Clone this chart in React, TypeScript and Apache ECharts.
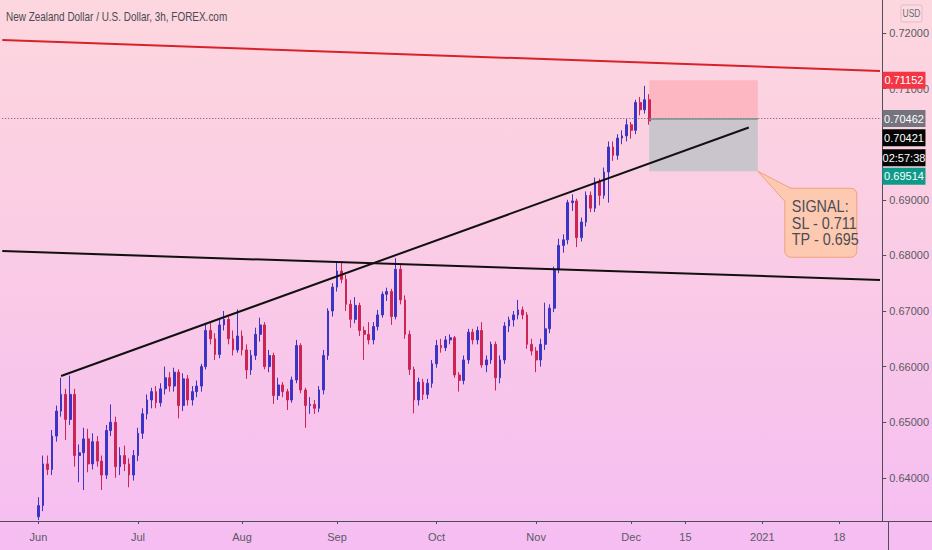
import React, { useEffect, useRef } from 'react';
import * as echarts from 'echarts';

const TITLE = 'New Zealand Dollar / U.S. Dollar, 3h, FOREX.com';
const FONT = "'Liberation Sans', Arial, sans-serif";

// Daily candles: [open, high, low, close]
const juneOHLC = [
  [0.6330, 0.6365, 0.6324, 0.6350], [0.6350, 0.6440, 0.6340, 0.6425], [0.6425, 0.6440, 0.6405, 0.6415],
  [0.6415, 0.6486, 0.6405, 0.6475], [0.6475, 0.6530, 0.6465, 0.6520], [0.6520, 0.6580, 0.6510, 0.6550],
  [0.6550, 0.6560, 0.6468, 0.6505], [0.6505, 0.6584, 0.6495, 0.6550], [0.6550, 0.6560, 0.6420, 0.6440],
  [0.6440, 0.6460, 0.6392, 0.6445], [0.6445, 0.6490, 0.6378, 0.6470], [0.6470, 0.6488, 0.6410, 0.6425],
  [0.6425, 0.6480, 0.6415, 0.6465], [0.6465, 0.6475, 0.6420, 0.6430], [0.6430, 0.6440, 0.6378, 0.6405],
  [0.6405, 0.6495, 0.6398, 0.6485], [0.6485, 0.6532, 0.6475, 0.6500], [0.6500, 0.6510, 0.6400, 0.6420],
  [0.6420, 0.6455, 0.6405, 0.6440], [0.6440, 0.6458, 0.6412, 0.6425], [0.6425, 0.6435, 0.6383, 0.6405],
  [0.6405, 0.6450, 0.6395, 0.6440],
];
const julyOHLC = [
  [0.6440, 0.6490, 0.6430, 0.6480], [0.6480, 0.6525, 0.6470, 0.6515], [0.6515, 0.6550, 0.6505, 0.6540],
  [0.6540, 0.6562, 0.6525, 0.6555], [0.6555, 0.6565, 0.6525, 0.6535], [0.6535, 0.6570, 0.6528, 0.6560],
  [0.6560, 0.6600, 0.6550, 0.6580], [0.6580, 0.6590, 0.6555, 0.6565], [0.6565, 0.6598, 0.6555, 0.6590],
  [0.6590, 0.6595, 0.6507, 0.6530], [0.6530, 0.6588, 0.6520, 0.6578], [0.6578, 0.6585, 0.6530, 0.6540],
  [0.6540, 0.6565, 0.6530, 0.6555], [0.6555, 0.6575, 0.6545, 0.6565], [0.6565, 0.6605, 0.6555, 0.6600],
  [0.6600, 0.6678, 0.6595, 0.6665], [0.6665, 0.6680, 0.6640, 0.6650], [0.6650, 0.6660, 0.6612, 0.6622],
  [0.6622, 0.6685, 0.6615, 0.6675], [0.6675, 0.6700, 0.6665, 0.6685], [0.6685, 0.6690, 0.6640, 0.6650],
  [0.6650, 0.6665, 0.6620, 0.6630], [0.6630, 0.6703, 0.6625, 0.6655],
];
const augustOHLC = [
  [0.6655, 0.6665, 0.6620, 0.6630], [0.6630, 0.6640, 0.6578, 0.6594], [0.6594, 0.6630, 0.6585, 0.6620],
  [0.6620, 0.6670, 0.6612, 0.6658], [0.6658, 0.6688, 0.6645, 0.6675], [0.6675, 0.6680, 0.6595, 0.6600],
  [0.6600, 0.6630, 0.6590, 0.6620], [0.6620, 0.6625, 0.6533, 0.6548], [0.6548, 0.6580, 0.6540, 0.6567],
  [0.6567, 0.6572, 0.6545, 0.6555], [0.6555, 0.6560, 0.6522, 0.6540], [0.6540, 0.6582, 0.6535, 0.6576],
  [0.6576, 0.6648, 0.6570, 0.6638], [0.6638, 0.6642, 0.6552, 0.6558], [0.6558, 0.6562, 0.6490, 0.6530],
  [0.6530, 0.6545, 0.6515, 0.6532], [0.6532, 0.6540, 0.6515, 0.6525], [0.6525, 0.6565, 0.6518, 0.6558],
  [0.6558, 0.6630, 0.6550, 0.6620], [0.6620, 0.6705, 0.6612, 0.6700], [0.6700, 0.6750, 0.6690, 0.6743],
];
const septemberOHLC = [
  [0.6743, 0.6788, 0.6735, 0.6772], [0.6772, 0.6790, 0.6750, 0.6757], [0.6757, 0.6765, 0.6700, 0.6712],
  [0.6712, 0.6720, 0.6670, 0.6685], [0.6685, 0.6725, 0.6678, 0.6710], [0.6710, 0.6715, 0.6655, 0.6665],
  [0.6665, 0.6672, 0.6612, 0.6658], [0.6658, 0.6680, 0.6640, 0.6648], [0.6648, 0.6680, 0.6640, 0.6672],
  [0.6672, 0.6702, 0.6665, 0.6693], [0.6693, 0.6735, 0.6688, 0.6730], [0.6730, 0.6742, 0.6718, 0.6735],
  [0.6735, 0.6740, 0.6675, 0.6690], [0.6690, 0.6795, 0.6685, 0.6775], [0.6775, 0.6785, 0.6712, 0.6720],
  [0.6720, 0.6728, 0.6650, 0.6658], [0.6658, 0.6665, 0.6585, 0.6595], [0.6595, 0.6600, 0.6516, 0.6540],
  [0.6540, 0.6580, 0.6530, 0.6572], [0.6572, 0.6578, 0.6540, 0.6550], [0.6550, 0.6578, 0.6542, 0.6570],
  [0.6570, 0.6612, 0.6562, 0.6605],
];
const octoberOHLC = [
  [0.6605, 0.6648, 0.6598, 0.6638], [0.6638, 0.6650, 0.6625, 0.6634], [0.6634, 0.6655, 0.6628, 0.6648],
  [0.6648, 0.6658, 0.6640, 0.6652], [0.6652, 0.6655, 0.6580, 0.6585], [0.6585, 0.6590, 0.6555, 0.6575],
  [0.6575, 0.6620, 0.6568, 0.6612], [0.6612, 0.6668, 0.6605, 0.6662], [0.6662, 0.6668, 0.6640, 0.6648],
  [0.6648, 0.6672, 0.6640, 0.6665], [0.6665, 0.6680, 0.6598, 0.6603], [0.6603, 0.6620, 0.6590, 0.6612],
  [0.6612, 0.6645, 0.6605, 0.6640], [0.6640, 0.6645, 0.6557, 0.6580], [0.6580, 0.6620, 0.6570, 0.6612],
  [0.6612, 0.6680, 0.6605, 0.6673], [0.6673, 0.6690, 0.6662, 0.6684], [0.6684, 0.6700, 0.6672, 0.6693],
  [0.6693, 0.6720, 0.6685, 0.6702], [0.6702, 0.6708, 0.6685, 0.6693], [0.6693, 0.6698, 0.6632, 0.6640],
  [0.6640, 0.6650, 0.6620, 0.6628],
];
const novemberOHLC = [
  [0.6628, 0.6635, 0.6590, 0.6612], [0.6612, 0.6650, 0.6600, 0.6640], [0.6640, 0.6715, 0.6630, 0.6668],
  [0.6668, 0.6712, 0.6660, 0.6705], [0.6705, 0.6780, 0.6698, 0.6775], [0.6775, 0.6830, 0.6768, 0.6818],
  [0.6818, 0.6838, 0.6805, 0.6828], [0.6828, 0.6900, 0.6820, 0.6895], [0.6895, 0.6910, 0.6880, 0.6898],
  [0.6898, 0.6902, 0.6815, 0.6832], [0.6832, 0.6868, 0.6825, 0.6860], [0.6860, 0.6915, 0.6852, 0.6908],
  [0.6908, 0.6915, 0.6878, 0.6885], [0.6885, 0.6940, 0.6878, 0.6932], [0.6932, 0.6938, 0.6890, 0.6908],
  [0.6908, 0.6958, 0.6902, 0.6950], [0.6950, 0.7005, 0.6895, 0.6995], [0.6995, 0.7005, 0.6970, 0.6980],
  [0.6980, 0.7018, 0.6972, 0.7011], [0.7011, 0.7025, 0.7000, 0.7015], [0.7015, 0.7045, 0.7005, 0.7035],
];
const decemberOHLC = [
  [0.7035, 0.7040, 0.7010, 0.7025], [0.7025, 0.7080, 0.7018, 0.7075], [0.7075, 0.7085, 0.7052, 0.7062],
  [0.7062, 0.7105, 0.7055, 0.7080], [0.7080, 0.7090, 0.7035, 0.7042],
];

// x-axis tick labels
const TICK_DATES = ['2020-06-01', '2020-07-01', '2020-08-03', '2020-09-01', '2020-10-01', '2020-11-02', '2020-12-01', '2020-12-15', '2021-01-01', '2021-01-18'];
const TICK_TEXTS = ['Jun', 'Jul', 'Aug', 'Sep', 'Oct', 'Nov', 'Dec', '15', '2021', '18'];

// price scale
const Y_MIN = 0.63223;
const Y_MAX = 0.72594;
const HIDDEN_TICK = 0.7; // covered by the price tags in the reference

// drawn trend lines (values at the left and right ends)
const RED_LINE = [0.71873, 0.71319];
const FLAT_LINE = [0.68078, 0.6756];
const RISING_DATES = ['2020-06-08', '2020-12-29'];
const RISING_VALUES = [0.6583, 0.703];

// position tool & price-scale labels
const STOP = 0.71152;
const ENTRY = 0.70462;
const LAST = 0.70421;
const TARGET = 0.69514;
const COUNTDOWN = '02:57:38';
const POSITION_DATES = ['2020-12-07', '2020-12-31'];
const SIGNAL_LINES = ['SIGNAL:', 'SL - 0.711', 'TP - 0.695'];

function dayRange(start: string, end: string, weekdaysOnly: boolean): string[] {
  const out: string[] = [];
  const d = new Date(start + 'T00:00:00Z');
  const e = new Date(end + 'T00:00:00Z');
  while (d <= e) {
    const wd = d.getUTCDay();
    if (!weekdaysOnly || (wd !== 0 && wd !== 6)) out.push(d.toISOString().slice(0, 10));
    d.setUTCDate(d.getUTCDate() + 1);
  }
  return out;
}

const leadDays = dayRange('2020-05-20', '2020-05-29', true);
const tradingDays = dayRange('2020-06-01', '2020-12-07', true);
const futureDays = dayRange('2020-12-08', '2021-01-27', false);
const categories = [...leadDays, ...tradingDays, ...futureDays];

const allOHLC = [...juneOHLC, ...julyOHLC, ...augustOHLC, ...septemberOHLC, ...octoberOHLC, ...novemberOHLC, ...decemberOHLC];
const candleRows = tradingDays.map((d, i) => {
  const [o, h, l, c] = allOHLC[i];
  return [d, o, c, l, h];
});

export default function App() {
  const ref = useRef<HTMLDivElement>(null);
  useEffect(() => {
    document.body.style.margin = '0';
    if (!ref.current) return;
    const chart = echarts.init(ref.current, undefined, { renderer: 'svg' });
    const first = categories[0];
    const last = categories[categories.length - 1];
    const tickMap: Record<string, string> = {};
    TICK_DATES.forEach((d, i) => (tickMap[d] = TICK_TEXTS[i]));
    const axisColor = '#4f4f5a';
    const labelColor = '#5a5a64';

    const priceTag = (value: number, text: string, color: string, dy: number) => ({
      name: text,
      coord: [last, value],
      symbol: 'rect',
      symbolSize: [43, 17],
      symbolOffset: [24, dy],
      itemStyle: { color },
      label: {
        show: true,
        position: 'inside',
        formatter: '{b}',
        color: '#ffffff',
        fontSize: 11,
        fontFamily: FONT,
      },
    });

    chart.setOption({
      animation: false,
      backgroundColor: 'transparent',
      grid: { left: 0, right: 44, top: 0, bottom: 29 },
      xAxis: {
        type: 'category',
        data: categories,
        boundaryGap: true,
        axisLine: { show: true, onZero: false, lineStyle: { color: axisColor, width: 1 } },
        axisTick: {
          show: true,
          length: 3,
          alignWithLabel: true,
          interval: (_i: number, v: string) => !!tickMap[v],
          lineStyle: { color: axisColor },
        },
        axisLabel: {
          interval: (_i: number, v: string) => !!tickMap[v],
          formatter: (v: string) => tickMap[v] || '',
          color: labelColor,
          fontSize: 11,
          margin: 10,
          fontFamily: FONT,
        },
        splitLine: { show: false },
      },
      yAxis: {
        type: 'value',
        position: 'right',
        min: Y_MIN,
        max: Y_MAX,
        minInterval: 0.01,
        maxInterval: 0.01,
        axisLine: { show: true, lineStyle: { color: axisColor, width: 1 } },
        axisTick: { show: true, length: 4, lineStyle: { color: axisColor } },
        axisLabel: {
          showMinLabel: false,
          showMaxLabel: false,
          formatter: (v: number) => (Math.abs(v - HIDDEN_TICK) < 1e-6 ? '' : v.toFixed(5)),
          color: labelColor,
          fontSize: 11,
          margin: 7,
          fontFamily: FONT,
        },
        splitLine: { show: false },
      },
      dataset: { source: candleRows },
      series: [
        {
          type: 'candlestick',
          encode: { x: 0, y: [1, 2, 3, 4] },
          barWidth: '50%',
          itemStyle: {
            color: '#3c34c4',
            color0: '#cc2455',
            borderColor: '#3c34c4',
            borderColor0: '#cc2455',
            borderWidth: 1,
          },
          markArea: {
            silent: true,
            data: [
              [
                { coord: [POSITION_DATES[0], STOP], itemStyle: { color: '#fdb7c3' } },
                { coord: [POSITION_DATES[1], ENTRY] },
              ],
              [
                { coord: [POSITION_DATES[0], ENTRY], itemStyle: { color: '#cac4cc' } },
                { coord: [POSITION_DATES[1], TARGET] },
              ],
            ],
          },
          markLine: {
            silent: true,
            symbol: ['none', 'none'],
            label: { show: false },
            data: [
              [
                { coord: [first, ENTRY], lineStyle: { color: '#5a5a66', width: 1, type: [1, 2] } },
                { coord: [last, ENTRY] },
              ],
              [
                { coord: [POSITION_DATES[0], ENTRY], lineStyle: { color: '#7f918d', width: 1.5, type: 'solid' } },
                { coord: [POSITION_DATES[1], ENTRY] },
              ],
              [
                { coord: [first, RED_LINE[0]], lineStyle: { color: '#d8222a', width: 2, type: 'solid' } },
                { coord: [last, RED_LINE[1]] },
              ],
              [
                { coord: [first, FLAT_LINE[0]], lineStyle: { color: '#111111', width: 2, type: 'solid' } },
                { coord: [last, FLAT_LINE[1]] },
              ],
              [
                { coord: [RISING_DATES[0], RISING_VALUES[0]], lineStyle: { color: '#111111', width: 2, type: 'solid' } },
                { coord: [RISING_DATES[1], RISING_VALUES[1]] },
              ],
            ],
          },
          markPoint: {
            silent: true,
            data: [
              priceTag(STOP, STOP.toFixed(5), '#f23645', 0),
              priceTag(ENTRY, ENTRY.toFixed(5), '#74747e', 0),
              priceTag(LAST, LAST.toFixed(5), '#050505', 17),
              priceTag(LAST, COUNTDOWN, '#050505', 37),
              priceTag(TARGET, TARGET.toFixed(5), '#0e9a89', 5),
            ],
          },
        },
      ],
    });

    const anchor = chart.convertToPixel({ gridIndex: 0 }, [categories.indexOf(POSITION_DATES[1]), TARGET]) as number[];
    const ax = anchor[0];
    const ay = anchor[1];
    const bx = ax + 27;
    const by = ay + 17;
    const bw = 72;
    const bh = 69;
    const fill = '#fdc9b0';
    const stroke = '#eea27f';
    const gridBottom = 550 - 29 + 0.5;

    chart.setOption({
      graphic: [
        {
          type: 'text',
          x: 6,
          y: 17,
          scaleX: 0.83,
          style: { text: TITLE, fill: '#4a4a54', fontSize: 12, fontFamily: FONT, align: 'left', verticalAlign: 'middle' },
          silent: true,
        },
        {
          type: 'rect',
          shape: { x: 901, y: 5, width: 21, height: 17, r: 2 },
          style: { fill: 'rgba(255,255,255,0.12)', stroke: 'rgba(190,150,165,0.45)', lineWidth: 1 },
          silent: true,
        },
        {
          type: 'text',
          x: 911.5,
          y: 14,
          scaleX: 0.85,
          style: { text: 'USD', fill: '#6a6a72', fontSize: 10, fontFamily: FONT, align: 'center', verticalAlign: 'middle' },
          silent: true,
        },
        {
          type: 'line',
          z: 100,
          shape: { x1: 0, y1: gridBottom, x2: 932, y2: gridBottom },
          style: { stroke: axisColor, lineWidth: 1 },
          silent: true,
        },
        {
          type: 'line',
          z: 100,
          shape: { x1: 888.5, y1: 521, x2: 888.5, y2: 550 },
          style: { stroke: axisColor, lineWidth: 1 },
          silent: true,
        },
        {
          type: 'rect',
          shape: { x: bx, y: by, width: bw, height: bh, r: 6 },
          style: { fill, stroke, lineWidth: 1 },
          silent: true,
        },
        {
          type: 'polygon',
          shape: { points: [[ax, ay], [bx + 6, by + 0.5], [bx + 0.5, by + 13]] },
          style: { fill, stroke: 'none' },
          silent: true,
        },
        {
          type: 'polyline',
          shape: { points: [[bx + 6, by], [ax, ay], [bx, by + 13]] },
          style: { stroke, lineWidth: 1, fill: 'none' },
          silent: true,
        },
        {
          type: 'text',
          x: bx + 7,
          y: by + bh / 2,
          scaleX: 0.9,
          style: {
            text: SIGNAL_LINES.join('\n'),
            fill: '#4c4c54',
            fontSize: 16,
            lineHeight: 16.5,
            fontFamily: FONT,
            align: 'left',
            verticalAlign: 'middle',
          },
          silent: true,
        },
      ],
    });

    return () => chart.dispose();
  }, []);

  return (
    <div
      ref={ref}
      style={{
        width: 932,
        height: 550,
        background: 'linear-gradient(180deg, #fdd7df 0%, #fbcde4 40%, #f5bdf2 100%)',
      }}
    />
  );
}
